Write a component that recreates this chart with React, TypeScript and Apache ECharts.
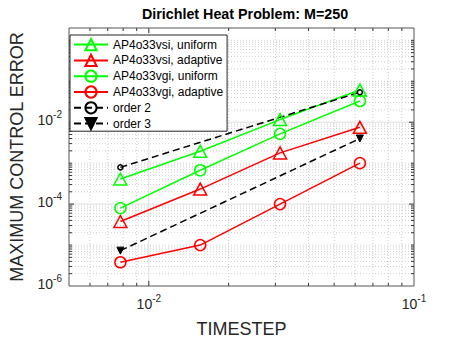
import React, { useEffect, useRef } from "react";
import * as echarts from "echarts";

// ---- data ----
const TIMESTEPS = [0.0078125, 0.015625, 0.03125, 0.0625];
const VSI_UNIFORM = [4.1e-4, 1.95e-3, 1.16e-2, 6.1e-2];
const VSI_ADAPTIVE = [3.75e-5, 2.33e-4, 1.78e-3, 7.5e-3];
const VGI_UNIFORM = [8.0e-5, 6.7e-4, 5.2e-3, 3.3e-2];
const VGI_ADAPTIVE = [3.8e-6, 1.0e-5, 1.0e-4, 1.0e-3];
const ORDER_X = [0.0078125, 0.0625];
const ORDER2 = [7.9e-4, 5.4e-2];
const ORDER3 = [7.3e-6, 4.0e-3];

const NAMES = [
  "AP4o33vsi, uniform",
  "AP4o33vsi, adaptive",
  "AP4o33vgi, uniform",
  "AP4o33vgi, adaptive",
  "order 2",
  "order 3",
];

const TITLE = "Dirichlet Heat Problem: M=250";
const X_NAME = "TIMESTEP";
const Y_NAME = "MAXIMUM CONTROL ERROR";

// ---- axes ----
const X_MIN = 0.005;
const X_MAX = 0.1;
const Y_MIN = 1e-6;
const Y_MAX = 2;
const X_LABEL_EXP = [-2, -1];
const Y_LABEL_EXP = [-6, -4, -2];
const X_MAJOR = [0.01];
const X_MINOR = [0.006, 0.007, 0.008, 0.009, 0.02, 0.03, 0.04, 0.05, 0.06, 0.07, 0.08, 0.09];
const Y_MAJOR = [1e-4, 1e-2];
const Y_DECADES = [-6, -5, -4, -3, -2, -1, 0];
const Y_MULTS = [1, 2, 3, 4, 5, 6, 7, 8, 9];

const FONT = '"Liberation Sans", Arial, Helvetica, sans-serif';
const GREEN = "#00ff00";
const RED = "#ff0000";
const AXIS_TEXT = "#262626";

const yMinor: number[] = [];
Y_DECADES.forEach((d) =>
  Y_MULTS.forEach((k) => {
    const v = Number((k * Math.pow(10, d)).toPrecision(3));
    if (v <= Y_MIN * 1.0001 || v >= Y_MAX * 0.9999) return;
    if (Y_MAJOR.some((m) => Math.abs(m - v) / m < 1e-6)) return;
    yMinor.push(v);
  })
);

const pairs = (xs: number[], ys: number[]) => xs.map((x, i) => [x, ys[i]]);

const labelFmt = (allowed: number[]) => (v: number) => {
  const l = Math.log10(v);
  const e = Math.round(l);
  if (Math.abs(l - e) > 1e-6 || allowed.indexOf(e) < 0) return "";
  return `{b|10}{s|${e}}`;
};

const rich = {
  b: { fontSize: 14, fontFamily: FONT, color: AXIS_TEXT, lineHeight: 14, verticalAlign: "bottom" },
  s: { fontSize: 10, fontFamily: FONT, color: AXIS_TEXT, lineHeight: 10, verticalAlign: "bottom", padding: [0, 0, 8, 0] },
};

export default function App() {
  const ref = useRef<HTMLDivElement>(null);
  useEffect(() => {
    if (!ref.current) return;
    const chart = echarts.init(ref.current, undefined, { renderer: "svg" });

    const majorStyle = { stroke: "#dedede", lineWidth: 1 };
    const minorStyle = { stroke: "#cfcfcf", lineWidth: 1, lineDash: [1, 2] };
    const tickStyle = { stroke: "#333333", lineWidth: 1 };

    const renderGrid = (_params: any, api: any) => {
      const children: any[] = [];
      const bl = api.coord([X_MIN, Y_MIN]);
      const tr = api.coord([X_MAX, Y_MAX]);
      const left = bl[0], bottom = bl[1], right = tr[0], top = tr[1];
      const vline = (v: number, major: boolean) => {
        const x = api.coord([v, Y_MIN])[0];
        const len = major ? 5 : 3;
        children.push({ type: "line", shape: { x1: x, y1: bottom, x2: x, y2: top }, style: major ? majorStyle : minorStyle });
        children.push({ type: "line", shape: { x1: x, y1: bottom, x2: x, y2: bottom - len }, style: tickStyle });
        children.push({ type: "line", shape: { x1: x, y1: top, x2: x, y2: top + len }, style: tickStyle });
      };
      const hline = (v: number, major: boolean) => {
        const y = api.coord([X_MIN, v])[1];
        const len = major ? 5 : 3;
        children.push({ type: "line", shape: { x1: left, y1: y, x2: right, y2: y }, style: major ? majorStyle : minorStyle });
        children.push({ type: "line", shape: { x1: left, y1: y, x2: left + len, y2: y }, style: tickStyle });
        children.push({ type: "line", shape: { x1: right, y1: y, x2: right - len, y2: y }, style: tickStyle });
      };
      X_MINOR.forEach((v) => vline(v, false));
      yMinor.forEach((v) => hline(v, false));
      X_MAJOR.forEach((v) => vline(v, true));
      Y_MAJOR.forEach((v) => hline(v, true));
      return { type: "group", children };
    };

    const lineSeries = (
      name: string,
      xs: number[],
      ys: number[],
      color: string,
      symbol: string,
      size: number | number[],
      opts: any = {}
    ) => ({
      name,
      type: "line",
      data: pairs(xs, ys),
      symbol,
      symbolSize: size,
      lineStyle: { color, width: 1.5, type: opts.dash || "solid" },
      itemStyle: opts.filled
        ? { color, borderColor: color, borderWidth: 1 }
        : { color: "rgba(0,0,0,0)", borderColor: color, borderWidth: 1.5 },
      symbolRotate: opts.rotate || 0,
      z: 3,
      silent: true,
    });

    chart.setOption({
      animation: false,
      title: {
        text: TITLE,
        left: 245,
        top: 7,
        padding: 0,
        textAlign: "center",
        textStyle: { fontSize: 14.3, fontWeight: "bold", fontFamily: FONT, color: "#000000" },
      },
      grid: {
        left: 62,
        right: 44,
        top: 28,
        bottom: 55,
        show: true,
        backgroundColor: "#ffffff",
        borderColor: "#555555",
        borderWidth: 1,
      },
      xAxis: {
        type: "log",
        logBase: 10,
        min: X_MIN,
        max: X_MAX,
        name: X_NAME,
        nameLocation: "middle",
        nameGap: 34,
        nameTextStyle: { fontSize: 18, fontFamily: FONT, color: AXIS_TEXT },
        axisLine: { show: false },
        axisTick: { show: false },
        splitLine: { show: false },
        minorTick: { show: false },
        minorSplitLine: { show: false },
        axisLabel: { formatter: labelFmt(X_LABEL_EXP), rich, margin: 11, showMinLabel: true, showMaxLabel: true },
      },
      yAxis: {
        type: "log",
        logBase: 10,
        min: Y_MIN,
        max: Y_MAX,
        name: Y_NAME,
        nameLocation: "middle",
        nameGap: 43,
        nameTextStyle: { fontSize: 18, fontFamily: FONT, color: AXIS_TEXT },
        axisLine: { show: false },
        axisTick: { show: false },
        splitLine: { show: false },
        minorTick: { show: false },
        minorSplitLine: { show: false },
        axisLabel: { formatter: labelFmt(Y_LABEL_EXP), rich, margin: 7, padding: [0, 0, 4, 0], showMinLabel: true },
      },
      legend: {
        data: NAMES,
        orient: "vertical",
        left: 70,
        top: 35,
        itemWidth: 34,
        itemHeight: 14,
        itemGap: 2.6,
        padding: [3, 4, 1, 3],
        backgroundColor: "#ffffff",
        borderColor: "#262626",
        borderWidth: 1,
        borderRadius: 0,
        textStyle: { fontSize: 12, fontFamily: FONT, color: "#000000" },
        selectedMode: false,
      },
      series: [
        {
          type: "custom",
          name: "grid",
          data: [[X_MIN, Y_MIN]],
          renderItem: renderGrid,
          silent: true,
          z: 1,
          clip: false,
        },
        lineSeries(NAMES[0], TIMESTEPS, VSI_UNIFORM, GREEN, "triangle", [13, 12]),
        lineSeries(NAMES[1], TIMESTEPS, VSI_ADAPTIVE, RED, "triangle", [13, 12]),
        lineSeries(NAMES[2], TIMESTEPS, VGI_UNIFORM, GREEN, "circle", 11),
        lineSeries(NAMES[3], TIMESTEPS, VGI_ADAPTIVE, RED, "circle", 11),
        lineSeries(NAMES[4], ORDER_X, ORDER2, "#000000", "circle", 5, { dash: [7, 4] }),
        lineSeries(NAMES[5], ORDER_X, ORDER3, "#000000", "triangle", 7, { dash: [7, 4], filled: true, rotate: 180 }),
      ],
    });
    return () => chart.dispose();
  }, []);
  return (
    <div
      ref={ref}
      style={{ position: "fixed", left: 0, top: 0, width: 458, height: 343, background: "#ffffff" }}
    />
  );
}
